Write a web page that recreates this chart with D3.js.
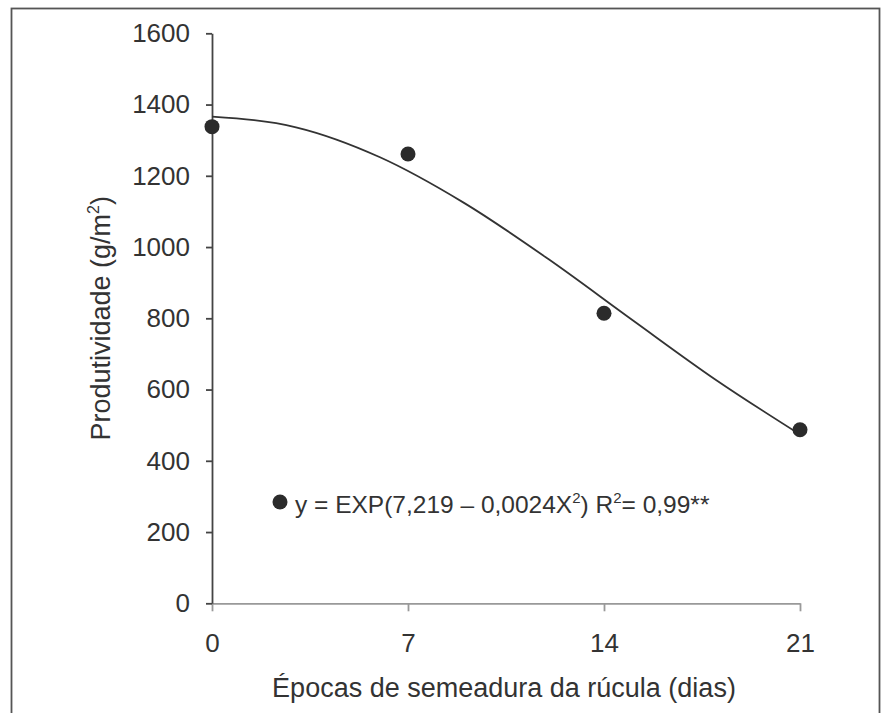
<!DOCTYPE html>
<html>
<head>
<meta charset="utf-8">
<script src="https://cdn.jsdelivr.net/npm/d3@7"></script>
<style>
  body { margin: 0; background: #fff; }
  text { font-family: "Liberation Sans", Arial, sans-serif; fill: #333; }
</style>
</head>
<body>
<div id="chart"></div>
<script>
// observed values
const days = [0, 7, 14, 21];
const yieldValues = [1338, 1261, 814, 487];

// fitted curve
const fitDays = [0, 3, 6, 9, 12, 15, 18, 21];
const fitValues = [1366, 1336, 1252, 1124, 967, 796, 627, 474];

const xTicks = [0, 7, 14, 21];
const yTicks = [0, 200, 400, 600, 800, 1000, 1200, 1400, 1600];

const width = 885;
const height = 713;
const margin = { top: 33.3, bottom: 109.7, left: 212, right: 85 };

const svg = d3.select('#chart')
  .append('svg')
  .attr('width', width)
  .attr('height', height);

// outer frame
svg.append('rect')
  .attr('x', 11.5).attr('y', 8.5)
  .attr('width', 868).attr('height', 720)
  .attr('fill', 'none')
  .attr('stroke', '#555')
  .attr('stroke-width', 1.8);

const x = d3.scaleLinear()
  .domain([0, 21])
  .range([margin.left, width - margin.right]);

const y = d3.scaleLinear()
  .domain([0, 1600])
  .range([height - margin.bottom, margin.top]);

function xAxis(g) {
  g.attr("transform", `translate(0,${height - margin.bottom})`)
    .call(d3.axisBottom(x).tickValues(xTicks).tickFormat(d3.format("d"))
      .tickSize(8).tickPadding(22).tickSizeOuter(0))
    .attr("font-size", '26px')
    .attr("font-family", null);
  g.select(".domain").attr("stroke", "#999").attr("stroke-width", 1.8);
  g.selectAll(".tick line").attr("stroke", "#999").attr("stroke-width", 1.8);
  g.selectAll(".tick text").attr("fill", "#333");
}

function yAxis(g) {
  g.attr("transform", `translate(${margin.left}, 0)`)
    .call(d3.axisLeft(y).tickValues(yTicks).tickFormat(d3.format("d"))
      .tickSize(6).tickPadding(16).tickSizeOuter(0))
    .attr("font-size", '26px')
    .attr("font-family", null);
  g.select(".domain").attr("stroke", "#444").attr("stroke-width", 1.8);
  g.selectAll(".tick line").attr("stroke", "#444").attr("stroke-width", 1.8);
  g.selectAll(".tick text").attr("fill", "#333");
}

svg.append("g").call(xAxis);
svg.append("g").call(yAxis);

// fitted curve
const line = d3.line()
  .x((d, i) => x(fitDays[i]))
  .y(d => y(d))
  .curve(d3.curveMonotoneX);

svg.append("path")
  .datum(fitValues)
  .attr("fill", "none")
  .attr("stroke", "#333")
  .attr("stroke-width", 1.8)
  .attr("d", line);

// points
svg.append("g")
  .attr("fill", "#2b2b2b")
  .selectAll("circle")
  .data(yieldValues)
  .join("circle")
    .attr("cx", (d, i) => x(days[i]))
    .attr("cy", d => y(d))
    .attr("r", 7.5);

// legend
svg.append("circle")
  .attr("cx", 280).attr("cy", 502)
  .attr("r", 7.5)
  .attr("fill", "#2b2b2b");

const leg = svg.append("text")
  .attr("x", 295).attr("y", 513)
  .attr("font-size", "24.5px");
leg.append("tspan").text("y = EXP(7,219 – 0,0024X");
leg.append("tspan").attr("font-size", "15px").attr("dy", -10).text("2");
leg.append("tspan").attr("dy", 10).text(") R");
leg.append("tspan").attr("font-size", "15px").attr("dy", -10).text("2");
leg.append("tspan").attr("dy", 10).text("= 0,99**");

// axis titles
svg.append("text")
  .attr("x", 504)
  .attr("y", 697)
  .attr("text-anchor", "middle")
  .attr("font-size", "27px")
  .text("Épocas de semeadura da rúcula (dias)");

const yt = svg.append("text")
  .attr("transform", `translate(110,${(margin.top + height - margin.bottom) / 2}) rotate(-90)`)
  .attr("text-anchor", "middle")
  .attr("font-size", "27px");
yt.append("tspan").text("Produtividade (g/m");
yt.append("tspan").attr("font-size", "16px").attr("dy", -11).text("2");
yt.append("tspan").attr("dy", 11).text(")");
</script>
</body>
</html>
